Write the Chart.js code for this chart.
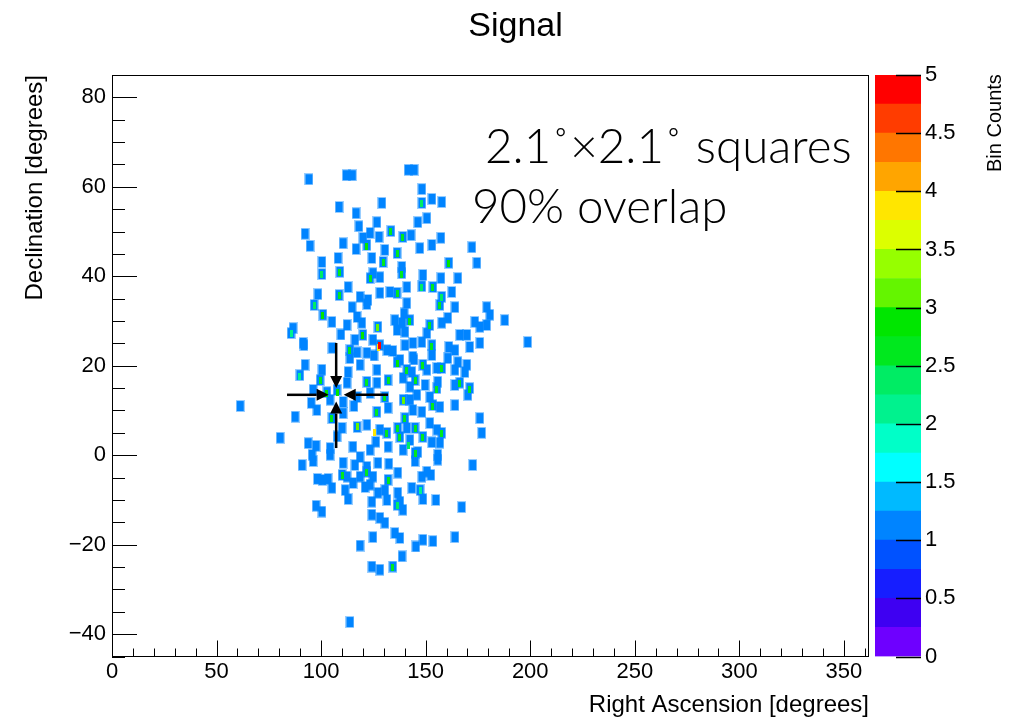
<!DOCTYPE html>
<html>
<head>
<meta charset="utf-8">
<script src="https://cdn.jsdelivr.net/npm/chart.js@4.4.1/dist/chart.umd.min.js"></script>
<style>
  html, body { margin: 0; padding: 0; background: #fff; }
  #wrap { position: relative; width: 1019px; height: 720px; overflow: hidden; }
  #mainChart { position: absolute; left: 0; top: 0; }
  #paletteChart { position: absolute; left: 860px; top: 0; }
  #zTitle {
    position: absolute; left: 983px; top: 172px;
    font: 20px "Liberation Sans", Arial, sans-serif; color: #000; line-height: 22px;
    white-space: nowrap; transform-origin: left top; transform: rotate(-90deg);
  }
</style>
</head>
<body>
<div id="wrap">
  <canvas id="mainChart" width="1019" height="720"></canvas>
  <canvas id="paletteChart" width="159" height="720"></canvas>
  <div id="zTitle">Bin Counts</div>
</div>
<script>
// axis ticks
const raTicks = [0, 50, 100, 150, 200, 250, 300, 350];
const decTicks = [-40, -20, 0, 20, 40, 60, 80];
const countTicks = [0, 0.5, 1, 1.5, 2, 2.5, 3, 3.5, 4, 4.5, 5];

// filled bins (count ~1), right ascension / declination in degrees
const binRA = [
  94.2, 112.0, 114.9, 108.6, 129.1, 116.7, 118.1, 126.7, 92.3, 94.7,
  123.4, 127.7, 133.4, 110.5, 121.9, 120.0, 116.7, 130.5, 124.3, 100.4,
  108.1, 109.0, 100.4, 129.6, 124.8, 123.4, 128.1, 112.9, 108.6, 98.5,
  118.6, 122.4, 128.1, 132.9, 96.6, 136.3, 141.6, 144.5, 148.2, 153.0,
  148.2, 157.7, 150.6, 146.3, 139.1, 143.0, 157.3, 147.2, 153.0, 172.1,
  136.3, 161.1, 174.5, 138.6, 138.6, 148.7, 157.3, 165.4, 141.0, 148.2,
  153.5, 162.5, 157.7, 141.0, 156.8, 164.0, 179.2, 100.9, 105.2, 112.4,
  86.6, 85.6, 117.2, 114.8, 121.9, 127.2, 120.0, 116.2, 124.8, 128.1,
  135.3, 136.3, 91.4, 105.2, 113.8, 121.9, 131.5, 136.3, 113.8, 118.6,
  92.3, 100.4, 112.9, 126.7, 132.0, 89.9, 99.5, 112.4, 121.9, 126.7,
  107.6, 102.8, 96.2, 117.2, 123.4, 130.5, 110.5, 104.3, 132.0, 105.2,
  87.6, 98.0, 126.7, 117.2, 121.9, 110.0, 136.7, 128.1, 80.4, 93.8,
  104.3, 115.2, 95.7, 104.3, 123.4, 132.0, 118.6, 137.7, 131.5, 91.8,
  95.3, 61.3, 97.6, 180.7, 187.8, 142.5, 138.7, 152.0, 157.7, 160.6,
  173.5, 175.9, 179.2, 140.1, 150.6, 166.3, 169.7, 175.9, 198.8, 140.1,
  143.9, 148.2, 153.0, 171.1, 164.0, 153.0, 143.9, 160.6, 137.7, 148.7,
  141.0, 143.4, 155.4, 157.7, 165.4, 169.7, 164.0, 168.8, 150.6, 144.9,
  139.2, 155.8, 164.0, 166.3, 171.1, 149.7, 142.5, 155.4, 139.2, 145.8,
  152.0, 142.5, 170.2, 164.0, 153.5, 156.8, 148.2, 143.9, 140.1, 152.0,
  144.9, 141.0, 155.4, 157.7, 175.9, 176.8, 148.7, 142.5, 152.9, 156.8,
  139.2, 144.9, 146.3, 155.8, 172.5, 90.9, 96.2, 110.5, 116.2, 121.9,
  127.2, 132.4, 98.2, 100.6, 103.3, 110.0, 112.4, 118.6, 121.9, 124.8,
  136.7, 132.0, 105.2, 115.3, 111.5, 121.0, 123.4, 127.2, 130.5, 136.7,
  124.3, 131.5, 112.9, 97.6, 100.4, 136.3, 139.1, 124.3, 128.1, 130.5,
  135.3, 137.7, 124.8, 118.6, 138.7, 124.3, 128.1, 134.3, 113.8, 144.9,
  155.8, 148.2, 150.6, 152.5, 143.4, 147.3, 148.7, 154.9, 137.7, 167.2,
  145.3, 148.7, 153.5, 164.0, 117.2, 125.3, 134.3, 109.5, 119.5, 139.7,
  144.4, 110.5, 115.7, 161.1, 126.2, 107.6
];
const binDec = [
  61.7, 62.6, 62.6, 55.5, 56.4, 54.1, 51.2, 52.1, 49.5, 46.8,
  49.7, 48.8, 50.1, 47.4, 47.0, 48.6, 46.1, 45.9, 44.1, 43.2,
  44.1, 41.0, 40.5, 43.2, 40.7, 39.6, 39.8, 37.6, 35.8, 36.0,
  35.4, 34.7, 36.3, 36.5, 33.6, 36.3, 63.8, 63.8, 59.5, 57.3,
  56.4, 56.6, 53.0, 52.1, 48.8, 49.2, 48.6, 46.3, 47.0, 46.5,
  45.2, 43.0, 43.0, 42.1, 40.7, 40.3, 39.6, 39.6, 37.6, 37.8,
  37.6, 36.5, 35.4, 34.0, 33.6, 33.1, 33.1, 31.4, 29.8, 29.1,
  28.4, 27.3, 30.9, 33.1, 33.8, 28.7, 26.9, 25.8, 25.8, 24.6,
  30.2, 28.0, 25.1, 24.0, 23.5, 22.9, 23.5, 20.8, 21.7, 20.2,
  20.2, 19.1, 18.6, 19.1, 16.8, 17.9, 16.8, 16.2, 16.4, 16.2,
  14.6, 14.1, 14.6, 13.0, 13.9, 13.0, 11.9, 12.4, 10.6, 8.3,
  8.6, 10.1, 9.7, 6.3, 6.8, 6.1, 6.1, 5.7, 3.9, 2.7,
  1.6, 1.9, 0.1, 0.1, 1.2, 1.9, -0.4, 4.1, 5.0, 24.6,
  11.7, 11.0, 2.1, 31.4, 30.2, 30.2, 29.6, 29.1, 29.6, 30.7,
  29.8, 28.7, 29.1, 27.6, 27.3, 26.9, 26.9, 25.1, 25.3, 24.6,
  25.1, 25.3, 24.6, 24.2, 23.5, 22.4, 22.0, 21.7, 21.3, 20.2,
  19.1, 18.6, 19.5, 19.5, 20.8, 20.2, 19.1, 18.6, 19.1, 16.8,
  17.3, 16.4, 15.7, 16.2, 15.0, 15.7, 15.3, 15.0, 12.4, 13.5,
  13.0, 12.4, 13.5, 11.2, 11.2, 10.8, 9.7, 10.1, 8.3, 7.2,
  6.1, 6.1, 5.7, 5.0, 8.3, 5.0, 4.1, 3.4, 2.9, 2.8,
  1.2, 0.5, 0.7, 0.1, -2.2, -2.2, -1.3, -1.7, -2.2, -2.6,
  -1.7, -1.9, -5.3, -5.5, -5.3, -4.4, -4.8, -4.8, -3.7, -4.8,
  -3.9, -5.5, -7.3, -6.2, -7.8, -7.1, -6.6, -8.4, -7.8, -8.4,
  -10.4, -10.0, -9.8, -11.3, -12.6, -11.1, -12.2, -13.3, -14.0, -15.1,
  -17.4, -18.5, -18.3, -20.2, -22.6, -24.9, -25.6, -24.9, -37.3, -1.3,
  -1.0, -4.8, -3.7, -4.4, -7.3, -7.8, -9.8, -10.0, -10.4, -11.6,
  -20.4, -18.9, -19.2, -18.3, 23.0, 22.3, 23.3, 27.0, 29.6, 31.7,
  21.4, 9.4, 11.0, 24.2, 3.0, 4.2
];
const binCount = 1;

// overlap peaks inside the filled bins
const peakRA = [
  133.4, 121.9, 109.0, 100.4, 129.6, 123.4, 108.6, 96.6, 136.3, 148.2,
  139.1, 136.3, 161.1, 138.6, 148.2, 153.5, 157.7, 156.8, 100.9, 85.6,
  127.2, 120.0, 127.4, 128.1, 113.8, 136.3, 132.0, 89.9, 99.5, 121.9,
  107.6, 102.8, 130.5, 105.2, 126.7, 136.7, 137.7, 131.5, 142.5, 152.0,
  153.0, 148.7, 141.0, 157.7, 144.9, 166.3, 171.1, 155.4, 139.2, 153.5,
  140.1, 144.9, 157.7, 148.7, 144.9, 110.0, 121.9, 132.0, 136.3, 134.3,
  147.3, 125.7, 117.6, 142.0
];
const peakDec = [
  50.1, 46.6, 40.8, 40.3, 43.0, 39.4, 35.6, 33.4, 36.1, 56.2,
  48.6, 45.0, 42.8, 40.5, 37.6, 37.4, 35.2, 33.4, 31.2, 27.1,
  28.5, 26.7, 24.0, 24.6, 23.3, 20.6, 16.6, 17.7, 16.6, 16.2,
  14.0, 13.9, 12.8, 8.1, 9.5, 5.9, 3.9, 4.8, 30.0, 28.9,
  24.4, 20.0, 18.9, 19.3, 16.6, 16.0, 14.8, 14.8, 12.2, 11.0,
  8.1, 5.9, 4.8, 3.9, 0.3, -4.6, -3.9, -5.7, -11.3, -25.1,
  -8.0, 5.0, 6.4, 2.2
];
const peakCount = [
  2.6, 2.8, 2.6, 2.4, 2.6, 2.6, 2.6, 2.3, 2.6, 2.4,
  2.6, 2.6, 2.8, 2.6, 2.4, 2.6, 2.4, 2.6, 2.8, 2.2,
  3.1, 2.9, 3.8, 4.8, 2.6, 2.8, 2.6, 2.1, 2.6, 2.6,
  2.8, 2.8, 2.6, 2.6, 2.6, 2.6, 2.6, 2.6, 2.6, 2.6,
  2.6, 2.6, 2.6, 2.6, 2.6, 2.6, 2.6, 2.6, 3.0, 2.6,
  2.6, 2.6, 2.6, 2.6, 2.6, 2.6, 2.6, 2.6, 2.4, 2.6,
  2.2, 3.9, 3.2, 2.4
];

// palette bands, 0 to 5 in steps of 0.25 (bottom to top)
const paletteStep = 0.25;
const paletteColors = [
  "rgb(110,0,255)", "rgb(62,0,242)", "rgb(22,30,255)", "rgb(0,82,255)",
  "rgb(0,132,255)", "rgb(0,186,255)", "rgb(0,255,255)", "rgb(0,255,200)",
  "rgb(0,242,142)", "rgb(0,236,100)", "rgb(0,232,30)", "rgb(0,230,0)",
  "rgb(100,245,0)", "rgb(150,255,0)", "rgb(220,255,0)", "rgb(255,230,0)",
  "rgb(255,165,0)", "rgb(255,118,0)", "rgb(255,60,0)", "rgb(255,0,0)"
];

// pointer arrows towards the source position
const arrowFromRA = [83.7, 132.0, 107.2, 107.2];
const arrowFromDec = [13.5, 13.5, 25.1, 1.6];
const arrowToRA = [103.6, 110.8, 107.2, 107.2];
const arrowToDec = [13.5, 13.5, 15.0, 12.0];

const fontFamily = "'Liberation Sans', Arial, Helvetica, sans-serif";

function colorFor(v) {
  const i = Math.max(0, Math.min(paletteColors.length - 1, Math.floor(v / paletteStep)));
  return paletteColors[i];
}

function makeRect(w, h, color, soft) {
  const c = document.createElement("canvas");
  c.width = w;
  c.height = h;
  const g = c.getContext("2d");
  g.fillStyle = color;
  if (soft) {
    g.globalAlpha = 0.4;
    g.fillRect(0, 0, w, h);
    g.globalAlpha = 1;
    g.fillRect(1, 1, w - 2, h - 2);
  } else {
    g.fillRect(0, 0, w, h);
  }
  return c;
}

const binMarker = makeRect(9, 12, colorFor(binCount), true);
const peakCache = {};
function peakMarker(v) {
  const col = colorFor(v);
  if (!peakCache[col]) peakCache[col] = makeRect(3, 7, col, false);
  return peakCache[col];
}

const framePlugin = {
  id: "frame",
  afterDraw(chart) {
    const { ctx, chartArea: a, scales } = chart;
    const x = scales.x, y = scales.y;
    ctx.save();
    ctx.strokeStyle = "#000";
    ctx.lineWidth = 1;
    ctx.strokeRect(Math.round(a.left) + 0.5, Math.round(a.top) + 0.5,
      Math.round(a.right - a.left) - 1, Math.round(a.bottom - a.top) - 1);

    ctx.beginPath();
    for (let v = 0; v <= x.max; v += 10) {
      const px = Math.round(x.getPixelForValue(v)) + 0.5;
      const len = v % 50 === 0 ? 16 : 8;
      ctx.moveTo(px, a.bottom);
      ctx.lineTo(px, a.bottom - len);
    }
    for (let v = -45; v <= y.max; v += 5) {
      const py = Math.round(y.getPixelForValue(v)) + 0.5;
      const len = v % 20 === 0 ? 25 : 13;
      ctx.moveTo(a.left, py);
      ctx.lineTo(a.left + len, py);
    }
    ctx.stroke();

    // arrows
    ctx.strokeStyle = "#000";
    ctx.fillStyle = "#000";
    ctx.lineWidth = 2.5;
    for (let i = 0; i < arrowFromRA.length; i++) {
      const x0 = x.getPixelForValue(arrowFromRA[i]);
      const y0 = y.getPixelForValue(arrowFromDec[i]);
      const x1 = x.getPixelForValue(arrowToRA[i]);
      const y1 = y.getPixelForValue(arrowToDec[i]);
      const ang = Math.atan2(y1 - y0, x1 - x0);
      const hl = 12, hw = 6;
      const bx = x1 - hl * Math.cos(ang), by = y1 - hl * Math.sin(ang);
      ctx.beginPath();
      ctx.moveTo(x0, y0);
      ctx.lineTo(bx, by);
      ctx.stroke();
      ctx.beginPath();
      ctx.moveTo(x1, y1);
      ctx.lineTo(bx - hw * Math.sin(ang), by + hw * Math.cos(ang));
      ctx.lineTo(bx + hw * Math.sin(ang), by - hw * Math.cos(ang));
      ctx.closePath();
      ctx.fill();
    }

    // annotation text
    ctx.fillStyle = "#000";
    ctx.textBaseline = "alphabetic";
    ctx.textAlign = "left";
    ctx.font = "300 47.5px Lato, 'Open Sans', sans-serif";
    ctx.fillText("2.1\u02DA\u00D72.1\u02DA squares", 485, 163);
    ctx.fillText("90% overlap", 472, 223);
    ctx.restore();
  }
};

new Chart(document.getElementById("mainChart"), {
  type: "scatter",
  data: {
    datasets: [
      {
        label: "peaks",
        order: 0,
        data: peakRA.map((ra, i) => ({ x: ra, y: peakDec[i], c: peakCount[i] })),
        pointStyle: (ctx) => peakMarker(ctx.raw ? ctx.raw.c : 2.6),
        pointRadius: 3,
        pointHoverRadius: 3
      },
      {
        label: "bins",
        order: 1,
        data: binRA.map((ra, i) => ({ x: ra, y: binDec[i] })),
        pointStyle: binMarker,
        pointRadius: 4,
        pointHoverRadius: 4
      }
    ]
  },
  options: {
    responsive: false,
    animation: false,
    devicePixelRatio: 1,
    events: [],
    layout: { padding: { left: 12, right: 0, top: 0, bottom: 0 } },
    plugins: {
      legend: { display: false },
      tooltip: { enabled: false },
      title: {
        display: true,
        text: "Signal",
        color: "#000",
        font: { family: fontFamily, size: 34, weight: "normal" },
        padding: { top: 6, bottom: 28.2 }
      }
    },
    scales: {
      x: {
        type: "linear",
        min: 0,
        max: 362,
        afterBuildTicks(s) { s.ticks = raTicks.map(v => ({ value: v })); },
        afterFit(s) { s.height = 63.5; },
        grid: { display: false, drawTicks: false },
        border: { display: false },
        ticks: { color: "#000", font: { family: fontFamily, size: 22 }, padding: 2, autoSkip: false, maxRotation: 0 },
        title: {
          display: true, text: "Right Ascension [degrees]", align: "end", color: "#000",
          font: { family: fontFamily, size: 24 }, padding: { top: 0, bottom: 0 }
        }
      },
      y: {
        type: "linear",
        min: -45,
        max: 85,
        afterBuildTicks(s) { s.ticks = decTicks.map(v => ({ value: v })); },
        afterFit(s) { s.width = 100; },
        grid: { display: false, drawTicks: false },
        border: { display: false },
        ticks: {
          color: "#000", font: { family: fontFamily, size: 22 }, padding: 6, autoSkip: false,
          callback: (v) => v < 0 ? "\u2212" + Math.abs(v) : String(v)
        },
        title: {
          display: true, text: "Declination [degrees]", align: "end", color: "#000",
          font: { family: fontFamily, size: 24 }, padding: { top: 9, bottom: 0 }
        }
      },
      yRight: {
        type: "linear",
        position: "right",
        min: 0,
        max: 1,
        afterFit(s) { s.width = 150; },
        grid: { display: false },
        border: { display: false },
        ticks: { display: false }
      }
    }
  },
  plugins: [framePlugin]
});

const paletteTickPlugin = {
  id: "paletteTicks",
  afterDraw(chart) {
    const { ctx, chartArea: a, scales } = chart;
    ctx.save();
    ctx.strokeStyle = "#000";
    ctx.lineWidth = 1.5;
    ctx.beginPath();
    countTicks.forEach(v => {
      const py = Math.round(scales.y.getPixelForValue(v)) + 0.5;
      ctx.moveTo(a.right - 25, py);
      ctx.lineTo(a.right, py);
    });
    ctx.stroke();
    ctx.restore();
  }
};

new Chart(document.getElementById("paletteChart"), {
  type: "bar",
  data: {
    labels: [""],
    datasets: paletteColors.map(c => ({
      data: [paletteStep],
      backgroundColor: c,
      borderWidth: 0,
      barPercentage: 1,
      categoryPercentage: 1
    }))
  },
  options: {
    responsive: false,
    animation: false,
    devicePixelRatio: 1,
    events: [],
    layout: { padding: { left: 15, right: 0, top: 75, bottom: 63.5 } },
    plugins: { legend: { display: false }, tooltip: { enabled: false } },
    scales: {
      x: { stacked: true, display: false },
      y: {
        stacked: true,
        position: "right",
        min: 0,
        max: 5,
        afterBuildTicks(s) { s.ticks = countTicks.map(v => ({ value: v })); },
        afterFit(s) { s.width = 98; },
        grid: { display: false, drawTicks: false },
        border: { display: false },
        ticks: {
          color: "#000", font: { family: fontFamily, size: 22 }, padding: 4, autoSkip: false,
          callback: (v) => String(v)
        }
      }
    }
  },
  plugins: [paletteTickPlugin]
});
</script>
</body>
</html>
